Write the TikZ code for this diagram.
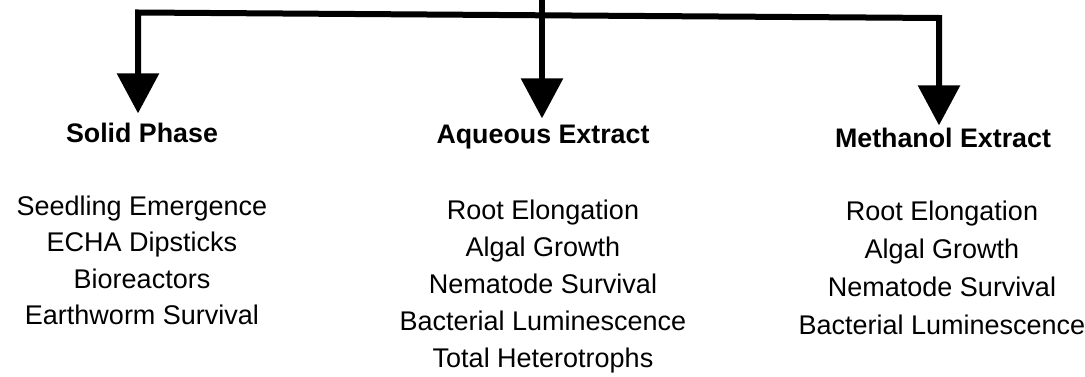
\documentclass[tikz,border=0pt]{standalone}
\usepackage{fontspec}
\setmainfont{Liberation Sans}
\usetikzlibrary{arrows.meta}
\begin{document}
\begin{tikzpicture}[x=1pt,y=-1pt,
  conn/.style={line width=6pt,line join=miter,-{Triangle[width=41pt,length=40pt]}},
  hdr/.style={font=\fontsize{26.8}{30}\selectfont\bfseries,inner sep=0pt,anchor=base},
  item/.style={font=\fontsize{27}{30}\selectfont,inner sep=0pt,anchor=base}]
\useasboundingbox (0,0) rectangle (1085,377);
% coordinates of the bar
\coordinate (top) at (542,-5);
\coordinate (jl) at (138,12.5);
\coordinate (jm) at (542,15.3);
\coordinate (jr) at (939,18);
% headers
\node[hdr] (hS) at (142,143) {Solid Phase};
\node[hdr] (hA) at (543,144) {Aqueous Extract};
\node[hdr] (hM) at (943,148) {Methanol Extract};
% connectors
\draw[conn,shorten >=10pt] (jm) -- (jl) -- (jl |- hS.north);
\draw[conn,shorten >=3pt] (jm) -- (jr) -- (jr |- hM.north);
\draw[conn,shorten >=7pt] (top) -- (jm |- hA.north);
% solid phase list
\node[item] (s1) at (142,215) {Seedling Emergence};
\node[item] (s2) at (142,251.5) {ECHA Dipsticks};
\node[item] (s3) at (142,288) {Bioreactors};
\node[item] (s4) at (142,324.5) {Earthworm Survival};
% aqueous list
\node[item] (a1) at (543,219) {Root Elongation};
\node[item] (a2) at (543,256) {Algal Growth};
\node[item] (a3) at (543,293) {Nematode Survival};
\node[item] (a4) at (543,330) {Bacterial Luminescence};
\node[item] (a5) at (543,367) {Total Heterotrophs};
% methanol list
\node[item] (m1) at (942,221) {Root Elongation};
\node[item] (m2) at (942,258) {Algal Growth};
\node[item] (m3) at (942,296) {Nematode Survival};
\node[item] (m4) at (942,334) {Bacterial Luminescence};
\end{tikzpicture}
\end{document}
